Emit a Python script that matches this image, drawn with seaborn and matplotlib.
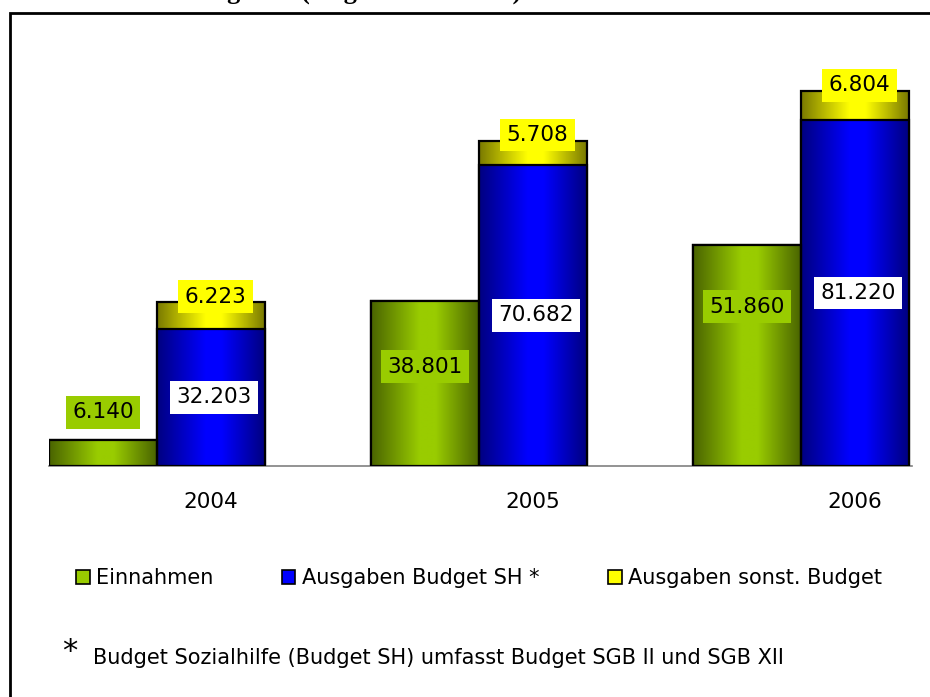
import matplotlib
matplotlib.use("Agg")
import matplotlib.pyplot as plt
import seaborn as sns
import pandas as pd
import numpy as np
from matplotlib.colors import LinearSegmentedColormap
from matplotlib.patches import Patch, Rectangle

# data (Angaben in Tsd. Euro)
years = ["2004", "2005", "2006"]
einnahmen = [6140, 38801, 51860]
ausgaben_sh = [32203, 70682, 81220]
ausgaben_sonst = [6223, 5708, 6804]

series_names = ["Einnahmen", "Ausgaben Budget SH *", "Ausgaben sonst. Budget"]

# colors: (dark edge, bright center)
green = ("#4a6400", "#99cc00")
blue = ("#000080", "#0000ff")
yellow = ("#7a7a00", "#ffff00")


def fmt(v):
    return f"{v:,}".replace(",", ".")


sns.set_style("white")
plt.rcParams["font.family"] = ["DejaVu Sans"]
plt.rcParams["text.color"] = "black"
plt.rcParams["xtick.color"] = "black"
plt.rcParams["xtick.labelcolor"] = "black"

fig = plt.figure(figsize=(9.3, 6.97), dpi=100)
ax = fig.add_axes([49 / 930, 1 - 466 / 697, (912 - 49) / 930, (466 - 40) / 697])

totals = [a + b for a, b in zip(ausgaben_sh, ausgaben_sonst)]

df_back = pd.DataFrame({
    "Jahr": years * 2,
    "Reihe": ["Einnahmen"] * 3 + ["Ausgaben"] * 3,
    "Wert": einnahmen + totals,
})
df_front = pd.DataFrame({
    "Jahr": years * 2,
    "Reihe": ["Einnahmen"] * 3 + ["Ausgaben"] * 3,
    "Wert": einnahmen + ausgaben_sh,
})

bar_w = 0.67
sns.barplot(data=df_back, x="Jahr", y="Wert", hue="Reihe", palette=[green[1], yellow[1]],
            width=bar_w, errorbar=None, legend=False, edgecolor="black", linewidth=1.6, ax=ax)
n_back = len(ax.patches)
sns.barplot(data=df_front, x="Jahr", y="Wert", hue="Reihe", palette=[green[1], blue[1]],
            width=bar_w, errorbar=None, legend=False, edgecolor="black", linewidth=1.6, ax=ax)
back = ax.patches[:n_back]
front = ax.patches[n_back:]


def shade(patch, cols, z):
    x, y = patch.get_x(), patch.get_y()
    w, h = patch.get_width(), patch.get_height()
    if h <= 0:
        return
    cmap = LinearSegmentedColormap.from_list("g", [(0, cols[0]), (0.45, cols[1]),
                                                   (0.6, cols[1]), (1, cols[0])])
    grad = np.linspace(0, 1, 200).reshape(1, -1)
    im = ax.imshow(grad, cmap=cmap, extent=[x, x + w, y, y + h], aspect="auto",
                   zorder=z, interpolation="bilinear")
    im.set_clip_path(patch)
    patch.set_facecolor("none")
    patch.set_zorder(z + 0.5)


for i, p in enumerate(back):
    shade(p, green if i < 3 else yellow, 1)
for i, p in enumerate(front):
    shade(p, green if i < 3 else blue, 3)

ax.set_xlim(-0.335, 2.345)
ax.set_ylim(0, 100000)

# data labels
fs = 15.5
off = bar_w / 4
ein_label_y = [einnahmen[0] + 6500, einnahmen[1] * 0.6, einnahmen[2] * 0.72]
for i in range(3):
    ax.text(i - off, ein_label_y[i], fmt(einnahmen[i]), ha="center", va="center", fontsize=fs,
            zorder=10, bbox=dict(boxstyle="square,pad=0.3", fc=green[1], ec="none"))
    ax.text(i + off + 0.01, ausgaben_sh[i] * 0.5, fmt(ausgaben_sh[i]), ha="center", va="center",
            fontsize=fs, zorder=10, bbox=dict(boxstyle="square,pad=0.3", fc="white", ec="none"))
    ax.text(i + off + 0.015, totals[i] + 1300, fmt(ausgaben_sonst[i]), ha="center", va="center",
            fontsize=fs, zorder=10, bbox=dict(boxstyle="square,pad=0.3", fc=yellow[1], ec="none"))

ax.set_xticks([i + off for i in range(3)])
ax.set_xticklabels(years, fontsize=fs)
ax.tick_params(axis="x", length=0, pad=19)
ax.set_yticks([])
ax.set_xlabel("")
ax.set_ylabel("")
for s in ["top", "left", "right"]:
    ax.spines[s].set_visible(False)
ax.spines["bottom"].set_color("#808080")
ax.spines["bottom"].set_linewidth(1.2)

# legend
handles = [Patch(facecolor=c[1], edgecolor="black", linewidth=1.2) for c in (green, blue, yellow)]
fig.legend(handles, series_names, loc="center left", bbox_to_anchor=(76 / 930, 1 - 578 / 697),
           ncol=3, frameon=False, fontsize=15, handlelength=0.65, handleheight=0.65,
           handletextpad=0.3, columnspacing=3.3, borderpad=0, borderaxespad=0)

# footnote
fig.text(62 / 930, 1 - 652 / 697, "*", fontsize=22, ha="left", va="center")
fig.text(93 / 930, 1 - 658 / 697, "Budget Sozialhilfe (Budget SH) umfasst Budget SGB II und SGB XII",
         fontsize=15, ha="left", va="center")

# title, cut off at the very top as in the source
fig.text(521 / 930, 1 + 1 / 697, "Einnahmen und Ausgaben (Angaben in Tsd. €)",
         fontsize=19, fontweight="bold", family=["Liberation Serif", "DejaVu Serif"],
         ha="right", va="baseline")

# chart area frame
fig.add_artist(Rectangle((10 / 930, -0.2), 2, 1.2 - 13 / 697, transform=fig.transFigure,
                         fill=False, edgecolor="black", linewidth=2))

fig.savefig("out.png", dpi=100)
